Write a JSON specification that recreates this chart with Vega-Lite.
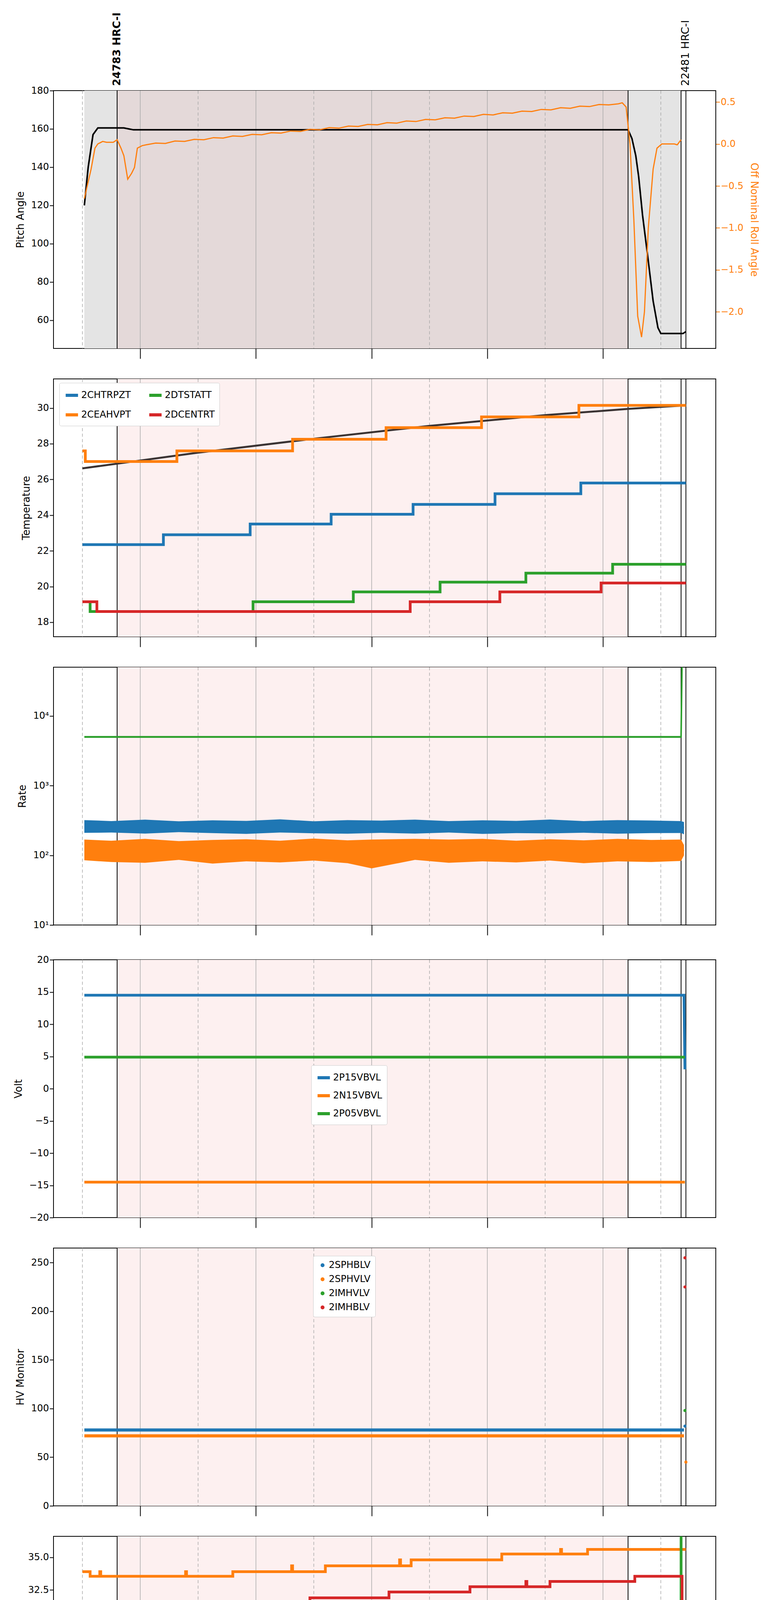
{
"$schema":"https://vega.github.io/schema/vega-lite/v6.json",
"background":"white",
"padding":{"left":30,"top":30,"right":30,"bottom":5},
"config":{"font":"DejaVu Sans","view":{"stroke":"black","strokeWidth":2},
"axis":{"labelFontSize":24,"titleFontSize":26,"titleFontWeight":"normal","tickColor":"black","domainColor":"black","labelColor":"black","tickWidth":2,"tickSize":10,"grid":false,"titlePadding":14,"labelFont":"DejaVu Sans"},
"legend":{"labelFontSize":24,"fillColor":"white","strokeColor":"#cccccc","padding":12,"cornerRadius":4,"symbolStrokeWidth":8,"rowPadding":14,"labelLimit":400}},
"datasets":{
"bg":[{"t":"2021-08-12T05:36Z","t2":"2021-08-12T14:26Z"}],
"p1bg":[{"t":"2021-08-12T05:02Z","t2":"2021-08-12T05:36Z","k":"g"},{"t":"2021-08-12T05:36Z","t2":"2021-08-12T14:26Z","k":"o"},{"t":"2021-08-12T14:26Z","t2":"2021-08-12T15:21Z","k":"g"}],
"godd":[{"t":"2021-08-12T05:00Z"},{"t":"2021-08-12T07:00Z"},{"t":"2021-08-12T09:00Z"},{"t":"2021-08-12T11:00Z"},{"t":"2021-08-12T13:00Z"},{"t":"2021-08-12T15:00Z"}],
"geven":[{"t":"2021-08-12T06:00Z"},{"t":"2021-08-12T08:00Z"},{"t":"2021-08-12T10:00Z"},{"t":"2021-08-12T12:00Z"},{"t":"2021-08-12T14:00Z"}],
"vl":[{"t":"2021-08-12T05:36Z"},{"t":"2021-08-12T14:26Z"},{"t":"2021-08-12T15:21Z"},{"t":"2021-08-12T15:26Z"}],
"obs":[{"t":"2021-08-12T05:36Z","label":"24783 HRC-I","b":"bold"},{"t":"2021-08-12T15:26Z","label":"22481 HRC-I","b":"normal"}],
"pitch":[{"t":"2021-08-12T05:02Z","v":120},{"t":"2021-08-12T05:06Z","v":140},{"t":"2021-08-12T05:11Z","v":157},{"t":"2021-08-12T05:16Z","v":160.5},{"t":"2021-08-12T05:43Z","v":160.5},{"t":"2021-08-12T05:48Z","v":160},{"t":"2021-08-12T05:53Z","v":159.5},{"t":"2021-08-12T14:26Z","v":159.5},{"t":"2021-08-12T14:30Z","v":155},{"t":"2021-08-12T14:34Z","v":146},{"t":"2021-08-12T14:37Z","v":135},{"t":"2021-08-12T14:41Z","v":115},{"t":"2021-08-12T14:46Z","v":95},{"t":"2021-08-12T14:52Z","v":70},{"t":"2021-08-12T14:57Z","v":56},{"t":"2021-08-12T15:00Z","v":53},{"t":"2021-08-12T15:23Z","v":53},{"t":"2021-08-12T15:26Z","v":54}],
"roll":[{"t":"2021-08-12T05:02Z","v":-0.65},{"t":"2021-08-12T05:06Z","v":-0.45},{"t":"2021-08-12T05:09Z","v":-0.3},{"t":"2021-08-12T05:13Z","v":-0.05},{"t":"2021-08-12T05:16Z","v":0.0},{"t":"2021-08-12T05:21Z","v":0.03},{"t":"2021-08-12T05:25Z","v":0.02},{"t":"2021-08-12T05:32Z","v":0.02},{"t":"2021-08-12T05:36Z","v":0.05},{"t":"2021-08-12T05:40Z","v":-0.05},{"t":"2021-08-12T05:43Z","v":-0.14},{"t":"2021-08-12T05:47Z","v":-0.42},{"t":"2021-08-12T05:51Z","v":-0.35},{"t":"2021-08-12T05:54Z","v":-0.28},{"t":"2021-08-12T05:57Z","v":-0.05},{"t":"2021-08-12T06:02Z","v":-0.02},{"t":"2021-08-12T06:06Z","v":-0.01},{"t":"2021-08-12T06:16Z","v":0.01},{"t":"2021-08-12T06:26Z","v":0.006},{"t":"2021-08-12T06:36Z","v":0.035},{"t":"2021-08-12T06:46Z","v":0.03},{"t":"2021-08-12T06:56Z","v":0.055},{"t":"2021-08-12T07:06Z","v":0.05},{"t":"2021-08-12T07:16Z","v":0.075},{"t":"2021-08-12T07:26Z","v":0.07},{"t":"2021-08-12T07:36Z","v":0.095},{"t":"2021-08-12T07:46Z","v":0.09},{"t":"2021-08-12T07:56Z","v":0.114},{"t":"2021-08-12T08:06Z","v":0.109},{"t":"2021-08-12T08:16Z","v":0.134},{"t":"2021-08-12T08:26Z","v":0.129},{"t":"2021-08-12T08:36Z","v":0.154},{"t":"2021-08-12T08:46Z","v":0.149},{"t":"2021-08-12T08:56Z","v":0.174},{"t":"2021-08-12T09:06Z","v":0.169},{"t":"2021-08-12T09:16Z","v":0.194},{"t":"2021-08-12T09:26Z","v":0.188},{"t":"2021-08-12T09:36Z","v":0.213},{"t":"2021-08-12T09:46Z","v":0.208},{"t":"2021-08-12T09:56Z","v":0.233},{"t":"2021-08-12T10:06Z","v":0.228},{"t":"2021-08-12T10:16Z","v":0.253},{"t":"2021-08-12T10:26Z","v":0.248},{"t":"2021-08-12T10:36Z","v":0.273},{"t":"2021-08-12T10:46Z","v":0.267},{"t":"2021-08-12T10:56Z","v":0.292},{"t":"2021-08-12T11:06Z","v":0.287},{"t":"2021-08-12T11:16Z","v":0.312},{"t":"2021-08-12T11:26Z","v":0.307},{"t":"2021-08-12T11:36Z","v":0.332},{"t":"2021-08-12T11:46Z","v":0.327},{"t":"2021-08-12T11:56Z","v":0.352},{"t":"2021-08-12T12:06Z","v":0.346},{"t":"2021-08-12T12:16Z","v":0.371},{"t":"2021-08-12T12:26Z","v":0.366},{"t":"2021-08-12T12:36Z","v":0.391},{"t":"2021-08-12T12:46Z","v":0.386},{"t":"2021-08-12T12:56Z","v":0.411},{"t":"2021-08-12T13:06Z","v":0.406},{"t":"2021-08-12T13:16Z","v":0.431},{"t":"2021-08-12T13:26Z","v":0.425},{"t":"2021-08-12T13:36Z","v":0.45},{"t":"2021-08-12T13:46Z","v":0.445},{"t":"2021-08-12T13:56Z","v":0.47},{"t":"2021-08-12T14:06Z","v":0.465},{"t":"2021-08-12T14:16Z","v":0.478},{"t":"2021-08-12T14:20Z","v":0.49},{"t":"2021-08-12T14:24Z","v":0.44},{"t":"2021-08-12T14:28Z","v":0.0},{"t":"2021-08-12T14:32Z","v":-0.9},{"t":"2021-08-12T14:36Z","v":-2.05},{"t":"2021-08-12T14:40Z","v":-2.3},{"t":"2021-08-12T14:43Z","v":-2.0},{"t":"2021-08-12T14:47Z","v":-1.0},{"t":"2021-08-12T14:52Z","v":-0.3},{"t":"2021-08-12T14:56Z","v":-0.05},{"t":"2021-08-12T15:01Z","v":0.0},{"t":"2021-08-12T15:08Z","v":0.0},{"t":"2021-08-12T15:14Z","v":0.0},{"t":"2021-08-12T15:17Z","v":-0.01},{"t":"2021-08-12T15:21Z","v":0.05}],
"temp":[
{"s":"2CHTRPZT","t":"2021-08-12T05:00Z","v":22.35},{"s":"2CHTRPZT","t":"2021-08-12T06:24Z","v":22.9},{"s":"2CHTRPZT","t":"2021-08-12T07:54Z","v":23.5},{"s":"2CHTRPZT","t":"2021-08-12T09:18Z","v":24.05},{"s":"2CHTRPZT","t":"2021-08-12T10:43Z","v":24.6},{"s":"2CHTRPZT","t":"2021-08-12T12:08Z","v":25.2},{"s":"2CHTRPZT","t":"2021-08-12T13:37Z","v":25.8},{"s":"2CHTRPZT","t":"2021-08-12T15:26Z","v":25.8},
{"s":"2CEAHVPT","t":"2021-08-12T05:00Z","v":27.6},{"s":"2CEAHVPT","t":"2021-08-12T05:03Z","v":27.0},{"s":"2CEAHVPT","t":"2021-08-12T06:38Z","v":27.6},{"s":"2CEAHVPT","t":"2021-08-12T08:38Z","v":28.25},{"s":"2CEAHVPT","t":"2021-08-12T10:15Z","v":28.9},{"s":"2CEAHVPT","t":"2021-08-12T11:54Z","v":29.5},{"s":"2CEAHVPT","t":"2021-08-12T13:35Z","v":30.15},{"s":"2CEAHVPT","t":"2021-08-12T15:26Z","v":30.15},
{"s":"2DTSTATT","t":"2021-08-12T05:00Z","v":19.15},{"s":"2DTSTATT","t":"2021-08-12T05:08Z","v":18.6},{"s":"2DTSTATT","t":"2021-08-12T07:57Z","v":19.15},{"s":"2DTSTATT","t":"2021-08-12T09:41Z","v":19.7},{"s":"2DTSTATT","t":"2021-08-12T11:11Z","v":20.25},{"s":"2DTSTATT","t":"2021-08-12T12:40Z","v":20.75},{"s":"2DTSTATT","t":"2021-08-12T14:10Z","v":21.25},{"s":"2DTSTATT","t":"2021-08-12T15:26Z","v":21.25},
{"s":"2DCENTRT","t":"2021-08-12T05:00Z","v":19.15},{"s":"2DCENTRT","t":"2021-08-12T05:15Z","v":18.6},{"s":"2DCENTRT","t":"2021-08-12T10:40Z","v":19.15},{"s":"2DCENTRT","t":"2021-08-12T12:13Z","v":19.7},{"s":"2DCENTRT","t":"2021-08-12T13:58Z","v":20.2},{"s":"2DCENTRT","t":"2021-08-12T15:26Z","v":20.2}],
"fit":[{"t":"2021-08-12T05:00Z","v":26.62},{"t":"2021-08-12T07:00Z","v":27.5},{"t":"2021-08-12T09:00Z","v":28.28},{"t":"2021-08-12T11:00Z","v":29.0},{"t":"2021-08-12T13:00Z","v":29.6},{"t":"2021-08-12T14:26Z","v":29.95},{"t":"2021-08-12T15:26Z","v":30.15}],
"rate":[
{"s":"2TLEV1RT","t":"2021-08-12T05:02Z","lo":210,"hi":320,"v":260},{"s":"2TLEV1RT","t":"2021-08-12T05:30Z","lo":212,"hi":310,"v":255},{"s":"2TLEV1RT","t":"2021-08-12T06:05Z","lo":205,"hi":325,"v":258},{"s":"2TLEV1RT","t":"2021-08-12T06:40Z","lo":215,"hi":308,"v":256},{"s":"2TLEV1RT","t":"2021-08-12T07:15Z","lo":208,"hi":318,"v":255},{"s":"2TLEV1RT","t":"2021-08-12T07:50Z","lo":203,"hi":312,"v":254},{"s":"2TLEV1RT","t":"2021-08-12T08:25Z","lo":212,"hi":328,"v":257},{"s":"2TLEV1RT","t":"2021-08-12T09:00Z","lo":207,"hi":308,"v":255},{"s":"2TLEV1RT","t":"2021-08-12T09:35Z","lo":204,"hi":320,"v":256},{"s":"2TLEV1RT","t":"2021-08-12T10:10Z","lo":210,"hi":315,"v":254},{"s":"2TLEV1RT","t":"2021-08-12T10:45Z","lo":205,"hi":325,"v":256},{"s":"2TLEV1RT","t":"2021-08-12T11:20Z","lo":212,"hi":310,"v":255},{"s":"2TLEV1RT","t":"2021-08-12T11:55Z","lo":203,"hi":318,"v":257},{"s":"2TLEV1RT","t":"2021-08-12T12:30Z","lo":208,"hi":312,"v":255},{"s":"2TLEV1RT","t":"2021-08-12T13:05Z","lo":206,"hi":326,"v":256},{"s":"2TLEV1RT","t":"2021-08-12T13:40Z","lo":211,"hi":310,"v":254},{"s":"2TLEV1RT","t":"2021-08-12T14:15Z","lo":204,"hi":320,"v":256},{"s":"2TLEV1RT","t":"2021-08-12T14:50Z","lo":208,"hi":316,"v":255},{"s":"2TLEV1RT","t":"2021-08-12T15:21Z","lo":209,"hi":310,"v":255},{"s":"2TLEV1RT","t":"2021-08-12T15:24Z","lo":200,"hi":300,"v":250},
{"s":"2VLEV1RT","t":"2021-08-12T05:02Z","lo":85,"hi":168,"v":122},{"s":"2VLEV1RT","t":"2021-08-12T05:30Z","lo":80,"hi":162,"v":120},{"s":"2VLEV1RT","t":"2021-08-12T06:05Z","lo":78,"hi":172,"v":121},{"s":"2VLEV1RT","t":"2021-08-12T06:40Z","lo":86,"hi":160,"v":119},{"s":"2VLEV1RT","t":"2021-08-12T07:15Z","lo":76,"hi":166,"v":120},{"s":"2VLEV1RT","t":"2021-08-12T07:50Z","lo":82,"hi":170,"v":121},{"s":"2VLEV1RT","t":"2021-08-12T08:25Z","lo":79,"hi":162,"v":120},{"s":"2VLEV1RT","t":"2021-08-12T09:00Z","lo":84,"hi":174,"v":122},{"s":"2VLEV1RT","t":"2021-08-12T09:35Z","lo":77,"hi":164,"v":119},{"s":"2VLEV1RT","t":"2021-08-12T10:00Z","lo":65,"hi":168,"v":121},{"s":"2VLEV1RT","t":"2021-08-12T10:45Z","lo":86,"hi":172,"v":120},{"s":"2VLEV1RT","t":"2021-08-12T11:20Z","lo":78,"hi":168,"v":120},{"s":"2VLEV1RT","t":"2021-08-12T11:55Z","lo":82,"hi":172,"v":121},{"s":"2VLEV1RT","t":"2021-08-12T12:30Z","lo":79,"hi":162,"v":119},{"s":"2VLEV1RT","t":"2021-08-12T13:05Z","lo":84,"hi":170,"v":121},{"s":"2VLEV1RT","t":"2021-08-12T13:40Z","lo":77,"hi":164,"v":120},{"s":"2VLEV1RT","t":"2021-08-12T14:15Z","lo":82,"hi":172,"v":122},{"s":"2VLEV1RT","t":"2021-08-12T14:50Z","lo":80,"hi":166,"v":120},{"s":"2VLEV1RT","t":"2021-08-12T15:21Z","lo":83,"hi":168,"v":121},{"s":"2VLEV1RT","t":"2021-08-12T15:24Z","lo":100,"hi":140,"v":115},
{"s":"2SHEV1RT","t":"2021-08-12T05:02Z","lo":4850,"hi":5150,"v":5000},{"s":"2SHEV1RT","t":"2021-08-12T15:21Z","lo":4850,"hi":5150,"v":5000},{"s":"2SHEV1RT","t":"2021-08-12T15:22Z","lo":60000,"hi":60000,"v":60000}],
"volt":[{"s":"2P15VBVL","t":"2021-08-12T05:02Z","v":14.5},{"s":"2P15VBVL","t":"2021-08-12T15:24Z","v":14.5},{"s":"2P15VBVL","t":"2021-08-12T15:25Z","v":3.0},
{"s":"2N15VBVL","t":"2021-08-12T05:02Z","v":-14.5},{"s":"2N15VBVL","t":"2021-08-12T15:25Z","v":-14.5},
{"s":"2P05VBVL","t":"2021-08-12T05:02Z","v":4.9},{"s":"2P05VBVL","t":"2021-08-12T15:25Z","v":4.9}],
"hvl":[{"s":"2SPHBLV","t":"2021-08-12T05:02Z","v":78},{"s":"2SPHBLV","t":"2021-08-12T15:24Z","v":78},{"s":"2SPHVLV","t":"2021-08-12T05:02Z","v":72},{"s":"2SPHVLV","t":"2021-08-12T15:24Z","v":72}],
"hvp":[{"s":"2SPHBLV","t":"2021-08-12T15:25Z","v":82},{"s":"2SPHVLV","t":"2021-08-12T15:26Z","v":45},{"s":"2IMHVLV","t":"2021-08-12T15:25Z","v":98},{"s":"2IMHBLV","t":"2021-08-12T15:25Z","v":255},{"s":"2IMHBLV","t":"2021-08-12T15:25Z","v":225}],
"det":[
{"s":"2SPINATM","t":"2021-08-12T05:00Z","v":18.3},{"s":"2SPINATM","t":"2021-08-12T10:54Z","v":18.95},{"s":"2SPINATM","t":"2021-08-12T13:38Z","v":19.6},{"s":"2SPINATM","t":"2021-08-12T14:05Z","v":18.95},{"s":"2SPINATM","t":"2021-08-12T14:06Z","v":19.6},{"s":"2SPINATM","t":"2021-08-12T14:24Z","v":18.95},{"s":"2SPINATM","t":"2021-08-12T14:25Z","v":19.6},{"s":"2SPINATM","t":"2021-08-12T15:26Z","v":19.6},
{"s":"2SPHVATM","t":"2021-08-12T05:00Z","v":33.9},{"s":"2SPHVATM","t":"2021-08-12T05:08Z","v":33.55},{"s":"2SPHVATM","t":"2021-08-12T05:18Z","v":33.9},{"s":"2SPHVATM","t":"2021-08-12T05:19Z","v":33.55},{"s":"2SPHVATM","t":"2021-08-12T06:47Z","v":33.9},{"s":"2SPHVATM","t":"2021-08-12T06:48Z","v":33.55},{"s":"2SPHVATM","t":"2021-08-12T07:36Z","v":33.9},{"s":"2SPHVATM","t":"2021-08-12T08:37Z","v":34.35},{"s":"2SPHVATM","t":"2021-08-12T08:38Z","v":33.9},{"s":"2SPHVATM","t":"2021-08-12T09:12Z","v":34.35},{"s":"2SPHVATM","t":"2021-08-12T10:29Z","v":34.8},{"s":"2SPHVATM","t":"2021-08-12T10:30Z","v":34.35},{"s":"2SPHVATM","t":"2021-08-12T10:41Z","v":34.8},{"s":"2SPHVATM","t":"2021-08-12T12:15Z","v":35.25},{"s":"2SPHVATM","t":"2021-08-12T13:16Z","v":35.6},{"s":"2SPHVATM","t":"2021-08-12T13:17Z","v":35.25},{"s":"2SPHVATM","t":"2021-08-12T13:44Z","v":35.6},{"s":"2SPHVATM","t":"2021-08-12T15:26Z","v":35.6},
{"s":"2IMINATM","t":"2021-08-12T05:00Z","v":18.95},{"s":"2IMINATM","t":"2021-08-12T09:42Z","v":19.6},{"s":"2IMINATM","t":"2021-08-12T12:04Z","v":20.3},{"s":"2IMINATM","t":"2021-08-12T14:17Z","v":21.0},{"s":"2IMINATM","t":"2021-08-12T15:21Z","v":37.5},{"s":"2IMINATM","t":"2021-08-12T15:22Z","v":37.5},
{"s":"2IMHVATM","t":"2021-08-12T05:00Z","v":31.5},{"s":"2IMHVATM","t":"2021-08-12T05:09Z","v":31.1},{"s":"2IMHVATM","t":"2021-08-12T05:20Z","v":31.5},{"s":"2IMHVATM","t":"2021-08-12T05:21Z","v":31.1},{"s":"2IMHVATM","t":"2021-08-12T06:27Z","v":31.5},{"s":"2IMHVATM","t":"2021-08-12T06:28Z","v":31.1},{"s":"2IMHVATM","t":"2021-08-12T07:20Z","v":31.5},{"s":"2IMHVATM","t":"2021-08-12T08:56Z","v":31.9},{"s":"2IMHVATM","t":"2021-08-12T10:18Z","v":32.35},{"s":"2IMHVATM","t":"2021-08-12T11:42Z","v":32.75},{"s":"2IMHVATM","t":"2021-08-12T12:40Z","v":33.15},{"s":"2IMHVATM","t":"2021-08-12T12:41Z","v":32.75},{"s":"2IMHVATM","t":"2021-08-12T13:05Z","v":33.15},{"s":"2IMHVATM","t":"2021-08-12T14:33Z","v":33.55},{"s":"2IMHVATM","t":"2021-08-12T15:22Z","v":15.0},{"s":"2IMHVATM","t":"2021-08-12T15:23Z","v":15.0}],
"fea":[
{"s":"2FHTRMZT","t":"2021-08-12T05:00Z","v":20.2},{"s":"2FHTRMZT","t":"2021-08-12T05:43Z","v":20.75},{"s":"2FHTRMZT","t":"2021-08-12T06:47Z","v":21.3},{"s":"2FHTRMZT","t":"2021-08-12T07:52Z","v":21.8},{"s":"2FHTRMZT","t":"2021-08-12T08:59Z","v":22.35},{"s":"2FHTRMZT","t":"2021-08-12T10:10Z","v":22.9},{"s":"2FHTRMZT","t":"2021-08-12T11:23Z","v":23.45},{"s":"2FHTRMZT","t":"2021-08-12T12:41Z","v":24.05},{"s":"2FHTRMZT","t":"2021-08-12T14:08Z","v":24.6},{"s":"2FHTRMZT","t":"2021-08-12T15:19Z","v":24.05},{"s":"2FHTRMZT","t":"2021-08-12T15:26Z","v":24.05},
{"s":"2FRADPYT","t":"2021-08-12T05:16Z","v":15.75},{"s":"2FRADPYT","t":"2021-08-12T05:34Z","v":16.2},{"s":"2FRADPYT","t":"2021-08-12T06:05Z","v":16.65},{"s":"2FRADPYT","t":"2021-08-12T06:59Z","v":17.15},{"s":"2FRADPYT","t":"2021-08-12T07:59Z","v":17.65},{"s":"2FRADPYT","t":"2021-08-12T09:00Z","v":18.15},{"s":"2FRADPYT","t":"2021-08-12T10:04Z","v":18.65},{"s":"2FRADPYT","t":"2021-08-12T11:15Z","v":19.15},{"s":"2FRADPYT","t":"2021-08-12T12:29Z","v":19.65},{"s":"2FRADPYT","t":"2021-08-12T13:49Z","v":20.2},{"s":"2FRADPYT","t":"2021-08-12T14:55Z","v":19.65},{"s":"2FRADPYT","t":"2021-08-12T15:09Z","v":19.15},{"s":"2FRADPYT","t":"2021-08-12T15:26Z","v":19.15},
{"s":"2FEPRATM","t":"2021-08-12T05:00Z","v":22.4},{"s":"2FEPRATM","t":"2021-08-12T06:59Z","v":23.15},{"s":"2FEPRATM","t":"2021-08-12T08:40Z","v":23.9},{"s":"2FEPRATM","t":"2021-08-12T10:26Z","v":24.65},{"s":"2FEPRATM","t":"2021-08-12T12:22Z","v":25.4},{"s":"2FEPRATM","t":"2021-08-12T14:34Z","v":26.15},{"s":"2FEPRATM","t":"2021-08-12T15:21Z","v":27.5},{"s":"2FEPRATM","t":"2021-08-12T15:22Z","v":27.5},
{"s":"2FE00ATM","t":"2021-08-12T05:00Z","v":20.75},{"s":"2FE00ATM","t":"2021-08-12T05:10Z","v":20.5},{"s":"2FE00ATM","t":"2021-08-12T05:14Z","v":21.1},{"s":"2FE00ATM","t":"2021-08-12T05:15Z","v":20.75},{"s":"2FE00ATM","t":"2021-08-12T05:45Z","v":19.85},{"s":"2FE00ATM","t":"2021-08-12T05:47Z","v":20.75},{"s":"2FE00ATM","t":"2021-08-12T06:09Z","v":21.1},{"s":"2FE00ATM","t":"2021-08-12T06:38Z","v":19.85},{"s":"2FE00ATM","t":"2021-08-12T06:40Z","v":21.1},{"s":"2FE00ATM","t":"2021-08-12T06:56Z","v":21.4},{"s":"2FE00ATM","t":"2021-08-12T07:16Z","v":20.5},{"s":"2FE00ATM","t":"2021-08-12T07:17Z","v":21.4},{"s":"2FE00ATM","t":"2021-08-12T07:47Z","v":21.7},{"s":"2FE00ATM","t":"2021-08-12T08:35Z","v":22.0},{"s":"2FE00ATM","t":"2021-08-12T08:52Z","v":22.6},{"s":"2FE00ATM","t":"2021-08-12T08:53Z","v":22.0},{"s":"2FE00ATM","t":"2021-08-12T09:24Z","v":22.35},{"s":"2FE00ATM","t":"2021-08-12T09:32Z","v":23.3},{"s":"2FE00ATM","t":"2021-08-12T09:33Z","v":22.35},{"s":"2FE00ATM","t":"2021-08-12T10:14Z","v":22.65},{"s":"2FE00ATM","t":"2021-08-12T10:15Z","v":20.7},{"s":"2FE00ATM","t":"2021-08-12T10:16Z","v":22.65},{"s":"2FE00ATM","t":"2021-08-12T10:35Z","v":21.7},{"s":"2FE00ATM","t":"2021-08-12T10:36Z","v":22.65},{"s":"2FE00ATM","t":"2021-08-12T11:08Z","v":23.0},{"s":"2FE00ATM","t":"2021-08-12T11:49Z","v":22.3},{"s":"2FE00ATM","t":"2021-08-12T11:50Z","v":23.0},{"s":"2FE00ATM","t":"2021-08-12T12:05Z","v":23.3},{"s":"2FE00ATM","t":"2021-08-12T12:28Z","v":21.4},{"s":"2FE00ATM","t":"2021-08-12T12:29Z","v":23.3},{"s":"2FE00ATM","t":"2021-08-12T12:47Z","v":24.3},{"s":"2FE00ATM","t":"2021-08-12T12:48Z","v":23.3},{"s":"2FE00ATM","t":"2021-08-12T13:02Z","v":23.6},{"s":"2FE00ATM","t":"2021-08-12T14:05Z","v":23.95},{"s":"2FE00ATM","t":"2021-08-12T14:40Z","v":24.6},{"s":"2FE00ATM","t":"2021-08-12T14:41Z","v":23.95},{"s":"2FE00ATM","t":"2021-08-12T15:05Z","v":24.9},{"s":"2FE00ATM","t":"2021-08-12T15:06Z","v":23.95},{"s":"2FE00ATM","t":"2021-08-12T15:21Z","v":15.0},{"s":"2FE00ATM","t":"2021-08-12T15:22Z","v":15.0}]
},
"spacing":48,
"vconcat":[
{"width":1696,"height":660,
 "layer":[
  {"data":{"name":"p1bg"},"mark":{"type":"rect"},"encoding":{"x":{"field":"t","type":"temporal","scale":{"type":"utc","domain":[1628742600000,1628783820000]},"axis":{"values":[1628748000000,1628755200000,1628762400000,1628769600000,1628776800000],"labels":false,"tickSize":26,"title":null}},"x2":{"field":"t2"},"fill":{"field":"k","type":"nominal","scale":{"domain":["g","o"],"range":["#e4e4e4","#e4d9d9"]},"legend":null}}},
  {"data":{"name":"godd"},"mark":{"type":"rule","color":"#aaaaaa","strokeDash":[8,6],"strokeWidth":1.5},"encoding":{"x":{"field":"t","type":"temporal"}}},
  {"data":{"name":"geven"},"mark":{"type":"rule","color":"#aaaaaa","strokeWidth":1.5},"encoding":{"x":{"field":"t","type":"temporal"}}},
  {"data":{"name":"vl"},"mark":{"type":"rule","color":"black","strokeWidth":2},"encoding":{"x":{"field":"t","type":"temporal"}}},
  {"data":{"name":"obs"},"transform":[{"filter":"datum.b=='bold'"}],"mark":{"type":"text","angle":270,"align":"left","baseline":"middle","fontSize":27,"fontWeight":"bold","dx":12},"encoding":{"x":{"field":"t","type":"temporal"},"y":{"value":0},"text":{"field":"label"}}},
  {"data":{"name":"obs"},"transform":[{"filter":"datum.b=='normal'"}],"mark":{"type":"text","angle":270,"align":"left","baseline":"middle","fontSize":27,"dx":12},"encoding":{"x":{"field":"t","type":"temporal"},"y":{"value":0},"text":{"field":"label"}}},
  {"layer":[
   {"data":{"name":"pitch"},"mark":{"type":"line","color":"black","strokeWidth":4,"clip":true},"encoding":{"x":{"field":"t","type":"temporal"},"y":{"field":"v","type":"quantitative","scale":{"domain":[45.2,180],"nice":false,"zero":false},"axis":{"orient":"left","values":[60,80,100,120,140,160,180],"title":"Pitch Angle"}}}},
   {"data":{"name":"roll"},"mark":{"type":"line","color":"#ff7f0e","strokeWidth":3,"clip":true},"encoding":{"x":{"field":"t","type":"temporal"},"y":{"field":"v","type":"quantitative","scale":{"domain":[-2.435,0.635],"nice":false,"zero":false},"axis":{"orient":"right","values":[-2,-1.5,-1,-0.5,0,0.5],"format":".1f","title":"Off Nominal Roll Angle","labelColor":"#ff7f0e","titleColor":"#ff7f0e","tickColor":"#ff7f0e"}}}}
  ],"resolve":{"scale":{"y":"independent"}}}
 ]},
{"width":1696,"height":660,
 "layer":[
  {"data":{"name":"bg"},"mark":{"type":"rect","color":"#fdf0f0"},"encoding":{"x":{"field":"t","type":"temporal","scale":{"type":"utc","domain":[1628742600000,1628783820000]},"axis":{"values":[1628748000000,1628755200000,1628762400000,1628769600000,1628776800000],"labels":false,"tickSize":26,"title":null}},"x2":{"field":"t2"}}},
  {"data":{"name":"godd"},"mark":{"type":"rule","color":"#aaaaaa","strokeDash":[8,6],"strokeWidth":1.5},"encoding":{"x":{"field":"t","type":"temporal"}}},
  {"data":{"name":"geven"},"mark":{"type":"rule","color":"#aaaaaa","strokeWidth":1.5},"encoding":{"x":{"field":"t","type":"temporal"}}},
  {"data":{"name":"vl"},"mark":{"type":"rule","color":"black","strokeWidth":2},"encoding":{"x":{"field":"t","type":"temporal"}}},
  {"data":{"name":"fit"},"mark":{"type":"line","color":"#3a3333","strokeWidth":5},"encoding":{"x":{"field":"t","type":"temporal"},"y":{"field":"v","type":"quantitative","scale":{"domain":[17.19,31.63],"nice":false,"zero":false},"axis":{"values":[18,20,22,24,26,28,30],"title":"Temperature"}}}},
  {"data":{"name":"temp"},"mark":{"type":"line","interpolate":"step-after","strokeWidth":7,"clip":true},"encoding":{"x":{"field":"t","type":"temporal"},"y":{"field":"v","type":"quantitative"},"color":{"field":"s","type":"nominal","scale":{"domain":["2CHTRPZT","2CEAHVPT","2DTSTATT","2DCENTRT"],"range":["#1f77b4","#ff7f0e","#2ca02c","#d62728"]},"legend":{"title":null,"orient":"none","legendX":15,"legendY":10,"columns":2,"columnPadding":30,"symbolType":"stroke","symbolSize":1000,"direction":"vertical"}}}},
  {"mark":{"type":"rect","fill":"white","stroke":"black","strokeWidth":2.5,"clip":false},"encoding":{"x":{"datum":{"year":2021,"month":8,"date":12,"hours":10,"minutes":9,"utc":true},"type":"temporal"},"x2":{"datum":{"year":2021,"month":8,"date":12,"hours":11,"minutes":8,"utc":true}},"y":{"datum":19.3,"type":"quantitative"},"y2":{"datum":16.85}}},
  {"mark":{"type":"text","align":"left","baseline":"top","fontSize":24,"lineBreak":"\n","lineHeight":34,"clip":false,"dx":6,"dy":8},"encoding":{"x":{"datum":{"year":2021,"month":8,"date":12,"hours":10,"minutes":9,"utc":true},"type":"temporal"},"y":{"datum":19.3,"type":"quantitative"},"text":{"value":"τ=-18.1\nA1=34.8\nA2=8.1"}}}
 ]},
{"width":1696,"height":660,
 "layer":[
  {"data":{"name":"bg"},"mark":{"type":"rect","color":"#fdf0f0"},"encoding":{"x":{"field":"t","type":"temporal","scale":{"type":"utc","domain":[1628742600000,1628783820000]},"axis":{"values":[1628748000000,1628755200000,1628762400000,1628769600000,1628776800000],"labels":false,"tickSize":26,"title":null}},"x2":{"field":"t2"}}},
  {"data":{"name":"godd"},"mark":{"type":"rule","color":"#aaaaaa","strokeDash":[8,6],"strokeWidth":1.5},"encoding":{"x":{"field":"t","type":"temporal"}}},
  {"data":{"name":"geven"},"mark":{"type":"rule","color":"#aaaaaa","strokeWidth":1.5},"encoding":{"x":{"field":"t","type":"temporal"}}},
  {"data":{"name":"vl"},"mark":{"type":"rule","color":"black","strokeWidth":2},"encoding":{"x":{"field":"t","type":"temporal"}}},
  {"data":{"name":"rate"},"mark":{"type":"area","clip":true},"encoding":{"x":{"field":"t","type":"temporal"},"y":{"field":"lo","type":"quantitative","scale":{"type":"log","domain":[10,50000],"nice":false},"axis":{"values":[10,100,1000,10000],"labelExpr":"datum.value==10?'10¹':datum.value==100?'10²':datum.value==1000?'10³':'10⁴'","title":"Rate"}},"y2":{"field":"hi"},"fill":{"field":"s","type":"nominal","scale":{"domain":["2TLEV1RT","2VLEV1RT","2SHEV1RT"],"range":["#1f77b4","#ff7f0e","#2ca02c"]},"legend":null}}},
  {"data":{"name":"rate"},"mark":{"type":"line","strokeWidth":4,"clip":true},"encoding":{"x":{"field":"t","type":"temporal"},"y":{"field":"v","type":"quantitative"},"stroke":{"field":"s","type":"nominal","scale":{"domain":["2TLEV1RT","2VLEV1RT","2SHEV1RT"],"range":["#1f77b4","#ff7f0e","#2ca02c"]},"legend":{"title":null,"orient":"none","legendX":655,"legendY":485,"symbolType":"stroke","symbolSize":1000,"symbolStrokeWidth":4,"rowPadding":10}}}}
 ]},
{"width":1696,"height":660,
 "layer":[
  {"data":{"name":"bg"},"mark":{"type":"rect","color":"#fdf0f0"},"encoding":{"x":{"field":"t","type":"temporal","scale":{"type":"utc","domain":[1628742600000,1628783820000]},"axis":{"values":[1628748000000,1628755200000,1628762400000,1628769600000,1628776800000],"labels":false,"tickSize":26,"title":null}},"x2":{"field":"t2"}}},
  {"data":{"name":"godd"},"mark":{"type":"rule","color":"#aaaaaa","strokeDash":[8,6],"strokeWidth":1.5},"encoding":{"x":{"field":"t","type":"temporal"}}},
  {"data":{"name":"geven"},"mark":{"type":"rule","color":"#aaaaaa","strokeWidth":1.5},"encoding":{"x":{"field":"t","type":"temporal"}}},
  {"data":{"name":"vl"},"mark":{"type":"rule","color":"black","strokeWidth":2},"encoding":{"x":{"field":"t","type":"temporal"}}},
  {"data":{"name":"volt"},"mark":{"type":"line","strokeWidth":7,"clip":true},"encoding":{"x":{"field":"t","type":"temporal"},"y":{"field":"v","type":"quantitative","scale":{"domain":[-20,20],"nice":false},"axis":{"values":[-20,-15,-10,-5,0,5,10,15,20],"title":"Volt"}},"color":{"field":"s","type":"nominal","scale":{"domain":["2P15VBVL","2N15VBVL","2P05VBVL"],"range":["#1f77b4","#ff7f0e","#2ca02c"]},"legend":{"title":null,"orient":"none","legendX":660,"legendY":270,"symbolType":"stroke","symbolSize":1000,"rowPadding":10}}}}
 ]},
{"width":1696,"height":660,
 "layer":[
  {"data":{"name":"bg"},"mark":{"type":"rect","color":"#fdf0f0"},"encoding":{"x":{"field":"t","type":"temporal","scale":{"type":"utc","domain":[1628742600000,1628783820000]},"axis":{"values":[1628748000000,1628755200000,1628762400000,1628769600000,1628776800000],"labels":false,"tickSize":26,"title":null}},"x2":{"field":"t2"}}},
  {"data":{"name":"godd"},"mark":{"type":"rule","color":"#aaaaaa","strokeDash":[8,6],"strokeWidth":1.5},"encoding":{"x":{"field":"t","type":"temporal"}}},
  {"data":{"name":"geven"},"mark":{"type":"rule","color":"#aaaaaa","strokeWidth":1.5},"encoding":{"x":{"field":"t","type":"temporal"}}},
  {"data":{"name":"vl"},"mark":{"type":"rule","color":"black","strokeWidth":2},"encoding":{"x":{"field":"t","type":"temporal"}}},
  {"data":{"name":"hvl"},"mark":{"type":"line","strokeWidth":8,"clip":true},"encoding":{"x":{"field":"t","type":"temporal"},"y":{"field":"v","type":"quantitative","scale":{"domain":[0,265],"nice":false},"axis":{"values":[0,50,100,150,200,250],"title":"HV Monitor"}},"stroke":{"field":"s","type":"nominal","scale":{"domain":["2SPHBLV","2SPHVLV"],"range":["#1f77b4","#ff7f0e"]},"legend":null}}},
  {"data":{"name":"hvp"},"mark":{"type":"point","filled":true,"size":60,"opacity":1,"clip":true},"encoding":{"x":{"field":"t","type":"temporal"},"y":{"field":"v","type":"quantitative"},"color":{"field":"s","type":"nominal","scale":{"domain":["2SPHBLV","2SPHVLV","2IMHVLV","2IMHBLV"],"range":["#1f77b4","#ff7f0e","#2ca02c","#d62728"]},"legend":{"title":null,"orient":"none","legendX":665,"legendY":20,"symbolType":"circle","symbolSize":100,"rowPadding":12}}}}
 ]},
{"width":1696,"height":660,
 "layer":[
  {"data":{"name":"bg"},"mark":{"type":"rect","color":"#fdf0f0"},"encoding":{"x":{"field":"t","type":"temporal","scale":{"type":"utc","domain":[1628742600000,1628783820000]},"axis":{"values":[1628748000000,1628755200000,1628762400000,1628769600000,1628776800000],"labels":false,"tickSize":26,"title":null}},"x2":{"field":"t2"}}},
  {"data":{"name":"godd"},"mark":{"type":"rule","color":"#aaaaaa","strokeDash":[8,6],"strokeWidth":1.5},"encoding":{"x":{"field":"t","type":"temporal"}}},
  {"data":{"name":"geven"},"mark":{"type":"rule","color":"#aaaaaa","strokeWidth":1.5},"encoding":{"x":{"field":"t","type":"temporal"}}},
  {"data":{"name":"vl"},"mark":{"type":"rule","color":"black","strokeWidth":2},"encoding":{"x":{"field":"t","type":"temporal"}}},
  {"data":{"name":"det"},"mark":{"type":"line","interpolate":"step-after","strokeWidth":7,"clip":true},"encoding":{"x":{"field":"t","type":"temporal"},"y":{"field":"v","type":"quantitative","scale":{"domain":[16.9,36.6],"nice":false,"zero":false},"axis":{"values":[17.5,20,22.5,25,27.5,30,32.5,35],"format":".1f","title":"Detector Temp"}},"color":{"field":"s","type":"nominal","scale":{"domain":["2SPINATM","2SPHVATM","2IMINATM","2IMHVATM"],"range":["#1f77b4","#ff7f0e","#2ca02c","#d62728"]},"legend":{"title":null,"orient":"none","legendX":680,"legendY":205,"symbolType":"stroke","symbolSize":1000,"rowPadding":10}}}}
 ]},
{"width":1696,"height":660,
 "layer":[
  {"data":{"name":"bg"},"mark":{"type":"rect","color":"#fdf0f0"},"encoding":{"x":{"field":"t","type":"temporal","scale":{"type":"utc","domain":[1628742600000,1628783820000]},"axis":{"values":[1628744400000,1628748000000,1628751600000,1628755200000,1628758800000,1628762400000,1628766000000,1628769600000,1628773200000,1628776800000,1628780400000],"labelExpr":"utcFormat(datum.value,'%Hh')","labelFontSize":{"condition":{"test":"utchours(datum.value)%2==0","value":30},"value":17},"tickSize":{"condition":{"test":"utchours(datum.value)%2==0","value":24},"value":0},"labelPadding":{"condition":{"test":"utchours(datum.value)%2==0","value":10},"value":10},"title":"2021-08-12 (224)","titleFontSize":30,"titlePadding":6}},"x2":{"field":"t2"}}},
  {"data":{"name":"godd"},"mark":{"type":"rule","color":"#aaaaaa","strokeDash":[8,6],"strokeWidth":1.5},"encoding":{"x":{"field":"t","type":"temporal"}}},
  {"data":{"name":"geven"},"mark":{"type":"rule","color":"#aaaaaa","strokeWidth":1.5},"encoding":{"x":{"field":"t","type":"temporal"}}},
  {"data":{"name":"vl"},"mark":{"type":"rule","color":"black","strokeWidth":2},"encoding":{"x":{"field":"t","type":"temporal"}}},
  {"data":{"name":"fea"},"mark":{"type":"line","interpolate":"step-after","strokeWidth":7,"clip":true},"encoding":{"x":{"field":"t","type":"temporal"},"y":{"field":"v","type":"quantitative","scale":{"domain":[15.6,26.9],"nice":false,"zero":false},"axis":{"values":[16,18,20,22,24,26],"title":"FEA Temp"}},"color":{"field":"s","type":"nominal","scale":{"domain":["2FHTRMZT","2FRADPYT","2FEPRATM","2FE00ATM"],"range":["#1f77b4","#ff7f0e","#2ca02c","#d62728"]},"legend":{"title":null,"orient":"none","legendX":15,"legendY":10,"symbolType":"stroke","symbolSize":1000,"rowPadding":10}}}}
 ]}
],
"resolve":{"scale":{"color":"independent","fill":"independent","stroke":"independent","y":"independent"},"legend":{"color":"independent","fill":"independent","stroke":"independent"}}
}
